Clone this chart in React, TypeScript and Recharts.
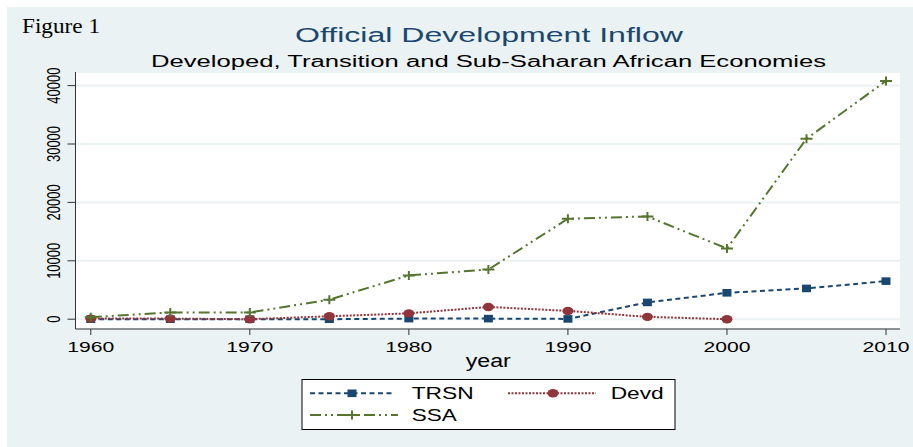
import { LineChart, Line, XAxis, YAxis, CartesianGrid } from 'recharts';

const years = [1960, 1965, 1970, 1975, 1980, 1985, 1990, 1995, 2000, 2005, 2010];
const trsn = [0, 0, 0, 0, 100, 100, 50, 2870, 4520, 5270, 6520];
const devd = [100, 100, 0, 500, 1000, 2100, 1420, 400, 0, null, null];
const ssa = [350, 1150, 1150, 3350, 7500, 8500, 17200, 17600, 12100, 30900, 40800];

const xTicks = [1960, 1970, 1980, 1990, 2000, 2010];
const yTicks = [0, 10000, 20000, 30000, 40000];

const BG = '#eaf2f3';
const GRID = '#eaf2f3';
const AXIS = '#333';
const FONT = '"Liberation Sans", Arial, Helvetica, sans-serif';

const SERIES = [
  { key: 'TRSN', color: '#1a476f', dash: '5 3.5', marker: 'square' },
  { key: 'Devd', color: '#90353b', dash: '2 1.5', marker: 'circle' },
  { key: 'SSA', color: '#55752f', dash: '11 4 2 4 2 4', marker: 'plus' },
];

const rows = years.map((year, i) => ({
  year,
  TRSN: trsn[i],
  Devd: devd[i],
  SSA: ssa[i],
}));

function Marker({ kind, cx, cy, color }: { kind: string; cx: number; cy: number; color: string }) {
  if (kind === 'square') {
    return <rect x={cx - 4.5} y={cy - 3.8} width={9} height={7.6} fill={color} />;
  }
  if (kind === 'circle') {
    return <ellipse cx={cx} cy={cy} rx={5.5} ry={4.2} fill={color} />;
  }
  return (
    <path
      d={`M${cx - 6},${cy}H${cx + 6}M${cx},${cy - 4.5}V${cy + 4.5}`}
      stroke={color}
      strokeWidth={2}
      fill="none"
    />
  );
}

function makeDot(kind: string, color: string) {
  return (props: any) => {
    const { cx, cy, index, value } = props;
    if (value == null || cx == null || cy == null) return <g key={`e-${kind}-${index}`} />;
    return (
      <g key={`d-${kind}-${index}`}>
        <Marker kind={kind} cx={cx} cy={cy} color={color} />
      </g>
    );
  };
}

function XTick(props: any) {
  const { x, y, payload } = props;
  return (
    <text
      x={x}
      y={y + 15.3}
      textAnchor="middle"
      fontFamily={FONT}
      fontSize={15}
      fill="#000"
      textLength={47}
      lengthAdjust="spacingAndGlyphs"
    >
      {payload.value}
    </text>
  );
}

function YTick(props: any) {
  const { x, y, payload } = props;
  return (
    <g transform={`translate(${x - 12},${y}) scale(1.35,1) rotate(-90)`}>
      <text
        x={0}
        y={0}
        textAnchor="middle"
        dominantBaseline="central"
        fontFamily={FONT}
        fontSize={13}
        fill="#000"
      >
        {payload.value}
      </text>
    </g>
  );
}

function LegendBox() {
  const items = [
    { s: SERIES[0], x1: 310, x2: 395, mx: 352, y: 393.3, tx: 411.7, ty: 399.3, tl: 62 },
    { s: SERIES[1], x1: 508, x2: 596, mx: 553, y: 393.3, tx: 610.7, ty: 399.3, tl: 53 },
    { s: SERIES[2], x1: 310, x2: 398, mx: 352, y: 415, tx: 411.7, ty: 421, tl: 45 },
  ];
  return (
    <g>
      <rect x={302} y={379.5} width={373} height={50} fill="#fff" stroke="#000" strokeWidth={1} />
      {items.map((it) => (
        <g key={it.s.key}>
          <line
            x1={it.x1}
            x2={it.x2}
            y1={it.y}
            y2={it.y}
            stroke={it.s.color}
            strokeWidth={2}
            strokeDasharray={it.s.dash}
          />
          <Marker kind={it.s.marker} cx={it.mx} cy={it.y} color={it.s.color} />
          <text
            x={it.tx}
            y={it.ty}
            fontFamily={FONT}
            fontSize={17}
            fill="#000"
            textLength={it.tl}
            lengthAdjust="spacingAndGlyphs"
          >
            {it.s.key}
          </text>
        </g>
      ))}
    </g>
  );
}

export default function App() {
  return (
    <div style={{ position: 'absolute', left: 0, top: 0, width: 913, height: 447, background: '#fff' }}>
      <svg width={913} height={447} style={{ position: 'absolute', left: 0, top: 0 }}>
        <rect x={7} y={7} width={906} height={440} fill={BG} />
        <text
          x={22}
          y={33.3}
          fontFamily='"Liberation Serif", "Times New Roman", serif'
          fontSize={21}
          fill="#000"
          textLength={78}
          lengthAdjust="spacingAndGlyphs"
        >
          Figure 1
        </text>
        <text
          x={489}
          y={41.7}
          textAnchor="middle"
          fontFamily={FONT}
          fontSize={20}
          fill="#1a476f"
          textLength={388}
          lengthAdjust="spacingAndGlyphs"
        >
          Official Development Inflow
        </text>
        <text
          x={488.5}
          y={66.5}
          textAnchor="middle"
          fontFamily={FONT}
          fontSize={16}
          fill="#000"
          textLength={675}
          lengthAdjust="spacingAndGlyphs"
        >
          Developed, Transition and Sub-Saharan African Economies
        </text>
        <text
          x={488.3}
          y={367.3}
          textAnchor="middle"
          fontFamily={FONT}
          fontSize={18}
          fill="#000"
          textLength={45}
          lengthAdjust="spacingAndGlyphs"
        >
          year
        </text>
      </svg>
      <div style={{ position: 'absolute', left: 0, top: 0 }}>
        <LineChart width={913} height={447} data={rows} margin={{ top: 72, right: 13, bottom: 0, left: 0 }}>
          <CartesianGrid vertical={false} horizontal fill="#fff" stroke={GRID} strokeWidth={2} />
          <XAxis
            dataKey="year"
            type="number"
            domain={[1959.04, 2010.88]}
            ticks={xTicks}
            allowDataOverflow
            height={118}
            tickSize={6}
            stroke={AXIS}
            tick={<XTick />}
          />
          <YAxis
            type="number"
            domain={[-1678, 42329]}
            ticks={yTicks}
            allowDataOverflow
            width={75.5}
            tickSize={8}
            stroke={AXIS}
            tick={<YTick />}
          />
          {SERIES.map((s) => (
            <Line
              key={s.key}
              dataKey={s.key}
              name={s.key}
              type="linear"
              stroke={s.color}
              strokeWidth={2}
              strokeDasharray={s.dash}
              dot={makeDot(s.marker, s.color)}
              activeDot={false}
              isAnimationActive={false}
            />
          ))}
        </LineChart>
      </div>
      <svg width={913} height={447} style={{ position: 'absolute', left: 0, top: 0, pointerEvents: 'none' }}>
        <LegendBox />
      </svg>
    </div>
  );
}
